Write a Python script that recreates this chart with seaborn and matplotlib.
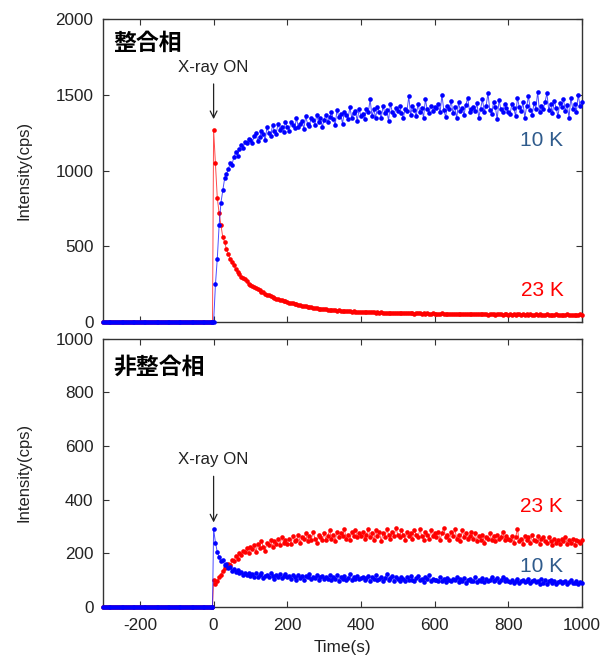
import matplotlib
matplotlib.use('Agg')
import matplotlib.pyplot as plt
import seaborn as sns
import numpy as np

# --- data ---
# sample times: zero baseline before X-ray ON, then the measurement grid (every 5 s)
t_pre = list(range(-300, 0, 5)) + [-3]
zero_pre = [0, 0, 0, 0, 0, 0, 0, 0, 0, 0, 0, 0, 0, 0, 0, 0, 0, 0, 0, 0,
            0, 0, 0, 0, 0, 0, 0, 0, 0, 0, 0, 0, 0, 0, 0, 0, 0, 0, 0, 0,
            0, 0, 0, 0, 0, 0, 0, 0, 0, 0, 0, 0, 0, 0, 0, 0, 0, 0, 0, 0, 0]
t_post = list(range(0, 1001, 5))

# commensurate phase (整合相)
c_10K = [0, 250, 420, 640, 790, 870, 950, 980, 1010, 1050, 1040, 1090, 1120, 1100, 1140, 1170,
         1150, 1190, 1180, 1210, 1200,
         1185, 1230, 1250, 1195, 1220, 1260, 1240, 1205, 1285, 1250, 1230, 1300, 1265, 1245, 1310, 1270, 1290, 1255, 1320, 1290,
         1265, 1320, 1300, 1280, 1345, 1290, 1310, 1330, 1275, 1360, 1310, 1295, 1350, 1335, 1300, 1370, 1320, 1345, 1290, 1335,
         1370, 1320, 1355, 1385, 1340, 1300, 1400, 1355, 1375, 1310, 1390, 1365, 1340, 1420, 1350, 1380, 1395, 1330, 1405, 1360,
         1375, 1340, 1410, 1385, 1470, 1360, 1405, 1350, 1420, 1390, 1345, 1425, 1380, 1400, 1330, 1440, 1390, 1365, 1415, 1395,
         1430, 1380, 1345, 1410, 1395, 1490, 1370, 1425, 1400, 1360, 1440, 1385, 1415, 1350, 1470, 1405, 1380, 1430, 1395, 1420,
         1415, 1440, 1385, 1500, 1400, 1355, 1430, 1405, 1460, 1380, 1420, 1345, 1450, 1395, 1415, 1370, 1435, 1480, 1390, 1410,
         1420, 1395, 1445, 1350, 1410, 1470, 1390, 1430, 1510, 1400, 1375, 1450, 1420, 1340, 1465, 1405, 1385, 1440, 1415, 1390,
         1375, 1440, 1415, 1360, 1480, 1420, 1395, 1450, 1350, 1425, 1490, 1400, 1370, 1445, 1410, 1520, 1385, 1430, 1405, 1455,
         1510, 1400, 1440, 1380, 1460, 1415, 1360, 1445, 1420, 1470, 1395, 1435, 1350, 1480, 1410, 1440, 1390, 1500, 1425, 1450]
c_23K = [1270, 1050, 820, 720, 640, 560, 530, 480, 450, 420, 395, 380, 350, 330, 320, 300,
         290, 285, 270, 255, 245,
         240, 232, 225, 218, 210, 200, 198, 188, 182, 178, 172, 165, 162, 155, 152, 148, 144, 140, 138, 134,
         130, 128, 125, 120, 118, 116, 112, 110, 108, 104, 102, 100, 99, 96, 94, 92, 90, 89, 88, 86,
         85, 84, 82, 80, 81, 78, 77, 78, 75, 74, 76, 72, 73, 71, 70, 72, 69, 70, 68, 70,
         68, 67, 69, 66, 68, 65, 66, 64, 66, 63, 65, 64, 62, 64, 63, 61, 63, 62, 60, 62,
         61, 60, 62, 59, 61, 58, 60, 59, 57, 60, 58, 59, 57, 58, 56, 58, 57, 55, 58, 56,
         57, 55, 56, 58, 54, 56, 55, 57, 53, 56, 54, 55, 57, 53, 55, 54, 56, 52, 55, 54,
         53, 55, 52, 54, 56, 52, 54, 53, 51, 54, 52, 55, 51, 53, 52, 54, 50, 53, 52, 51,
         53, 51, 54, 50, 52, 53, 49, 52, 51, 53, 50, 52, 49, 51, 53, 50, 52, 48, 51, 50,
         52, 49, 51, 50, 48, 52, 50, 49, 51, 48, 50, 52, 49, 47, 51, 49, 50, 48, 52, 50]

# incommensurate phase (非整合相)
i_10K = [290, 240, 205, 185, 170, 175, 155, 160, 145, 150, 135, 140, 130, 138, 125, 132,
         120, 128, 118, 125, 115,
         122, 112, 128, 110, 118, 125, 108, 116, 120, 110, 126, 114, 105, 119, 112, 123, 108, 115, 121, 110,
         115, 105, 120, 112, 100, 118, 108, 114, 102, 116, 110, 122, 104, 113, 107, 119, 101, 111, 116, 106,
         110, 104, 118, 100, 112, 106, 120, 98, 110, 105, 115, 102, 108, 121, 99, 112, 106, 117, 103, 109,
         112, 100, 108, 115, 96, 110, 104, 118, 100, 106, 113, 98, 109, 122, 101, 107, 115, 97, 111, 104,
         98, 112, 104, 95, 110, 102, 116, 100, 96, 108, 114, 99, 105, 93, 111, 103, 118, 97, 106, 101,
         102, 95, 110, 98, 104, 92, 108, 100, 96, 105, 99, 112, 94, 103, 97, 109, 91, 101, 106, 95,
         98, 110, 94, 102, 96, 108, 92, 104, 98, 100, 113, 95, 101, 107, 93, 99, 111, 96, 103, 97,
         94, 102, 90, 98, 106, 88, 96, 100, 92, 98, 104, 89, 97, 101, 93, 95, 87, 103, 91, 99,
         86, 95, 100, 90, 96, 84, 94, 98, 88, 92, 97, 85, 93, 99, 89, 91, 96, 87, 94, 90]
i_23K = [100, 85, 95, 110, 120, 135, 145, 150, 160, 155, 175, 170, 190, 180, 200, 195,
         210, 205, 220, 200, 225,
         215, 230, 205, 235, 220, 245, 225, 210, 240, 230, 250, 225, 245, 235, 255, 230, 260, 240, 250, 235,
         255, 235, 265, 245, 250, 270, 240, 260, 255, 275, 245, 265, 250, 280, 255, 240, 270, 260, 250, 275,
         250, 265, 285, 255, 270, 245, 280, 260, 275, 265, 290, 255, 270, 250, 280, 265, 285, 260, 275, 265,
         280, 255, 270, 290, 260, 275, 250, 285, 265, 280, 245, 275, 260, 290, 270, 255, 280, 265, 295, 270,
         260, 285, 270, 250, 280, 265, 275, 255, 285, 270, 260, 290, 265, 250, 280, 270, 255, 285, 265, 275,
         260, 280, 250, 275, 295, 260, 270, 250, 280, 265, 290, 255, 270, 245, 285, 260, 275, 255, 265, 280,
         255, 275, 245, 265, 250, 270, 240, 260, 255, 275, 250, 265, 245, 270, 255, 260, 280, 250, 265, 255,
         250, 265, 240, 260, 290, 245, 255, 235, 265, 250, 260, 240, 270, 250, 245, 265, 235, 255, 260, 245,
         240, 260, 245, 230, 255, 240, 250, 235, 255, 245, 260, 235, 250, 240, 255, 230, 250, 245, 240, 250]

panel_titles = ['整合相', '非整合相']
y_limits = [(0, 2000), (0, 1000)]
y_ticks = [[0, 500, 1000, 1500, 2000], [0, 200, 400, 600, 800, 1000]]
x_ticks = [-200, 0, 200, 400, 600, 800, 1000]

# --- style ---
sns.set_style('ticks')
plt.rcParams['font.family'] = ['Liberation Sans', 'Noto Sans CJK JP', 'DejaVu Sans']
plt.rcParams['axes.unicode_minus'] = False

RED = '#ff0000'
BLUE = '#0000ff'
LABEL_BLUE = '#2f5b8c'
SPINE = '#333333'
TXT = '#222222'

fig = plt.figure(figsize=(6.03, 6.59), dpi=100)
ax_top = fig.add_axes([0.171, 0.511, 0.794, 0.460])
ax_bot = fig.add_axes([0.171, 0.079, 0.794, 0.407])

t_all = t_pre + t_post
panels = [
    (ax_top, c_10K, c_23K),
    (ax_bot, i_10K, i_23K),
]

for k, (ax, blue_vals, red_vals) in enumerate(panels):
    for vals, col in [(red_vals, RED), (blue_vals, BLUE)]:
        y_all = zero_pre + vals
        sns.lineplot(x=t_all, y=y_all, ax=ax, color=col, linewidth=0.7, alpha=0.7,
                     sort=False, estimator=None, clip_on=False, zorder=3)
        sns.scatterplot(x=t_all, y=y_all, ax=ax, color=col, s=11, linewidth=0,
                        clip_on=False, zorder=3)

    ax.set_xlim(-300, 1000)
    ax.set_ylim(*y_limits[k])
    ax.set_yticks(y_ticks[k])
    ax.set_xticks(x_ticks)
    ax.tick_params(direction='in', length=4, width=0.8, color=SPINE,
                   top=True, right=True, labelsize=12.3, labelcolor=TXT)
    ax.tick_params(axis='y', pad=7)
    ax.tick_params(axis='x', pad=8)
    for sp in ax.spines.values():
        sp.set_color(SPINE)
        sp.set_linewidth(1.0)
    ax.set_ylabel('Intensity(cps)', fontsize=12, color=TXT, labelpad=17)
    ax.text(0.022, 0.92 if k == 0 else 0.895, panel_titles[k], transform=ax.transAxes,
            fontsize=16.5, fontweight='bold', family=['Noto Sans CJK JP', 'DejaVu Sans'],
            ha='left', va='center', color='black')

ax_top.set_xticklabels([])
ax_top.set_xlabel('')
ax_bot.set_xlabel('Time(s)', fontsize=12.3, color=TXT, labelpad=5)

# X-ray ON markers
ax_top.annotate('X-ray ON', xy=(0, 1340), xytext=(0, 1680), ha='center', va='center',
                fontsize=12.2, color=TXT,
                arrowprops=dict(arrowstyle='->', color=TXT, lw=0.9,
                                shrinkA=4, shrinkB=0))
ax_bot.annotate('X-ray ON', xy=(0, 315), xytext=(0, 548), ha='center', va='center',
                fontsize=12.2, color=TXT,
                arrowprops=dict(arrowstyle='->', color=TXT, lw=0.9,
                                shrinkA=4, shrinkB=0))

# temperature labels
ax_top.text(890, 1200, '10 K', color=LABEL_BLUE, fontsize=15, ha='center', va='center')
ax_top.text(892, 210, '23 K', color=RED, fontsize=15, ha='center', va='center')
ax_bot.text(890, 373, '23 K', color=RED, fontsize=15, ha='center', va='center')
ax_bot.text(890, 150, '10 K', color=LABEL_BLUE, fontsize=15, ha='center', va='center')

fig.savefig('out.png', dpi=100)
